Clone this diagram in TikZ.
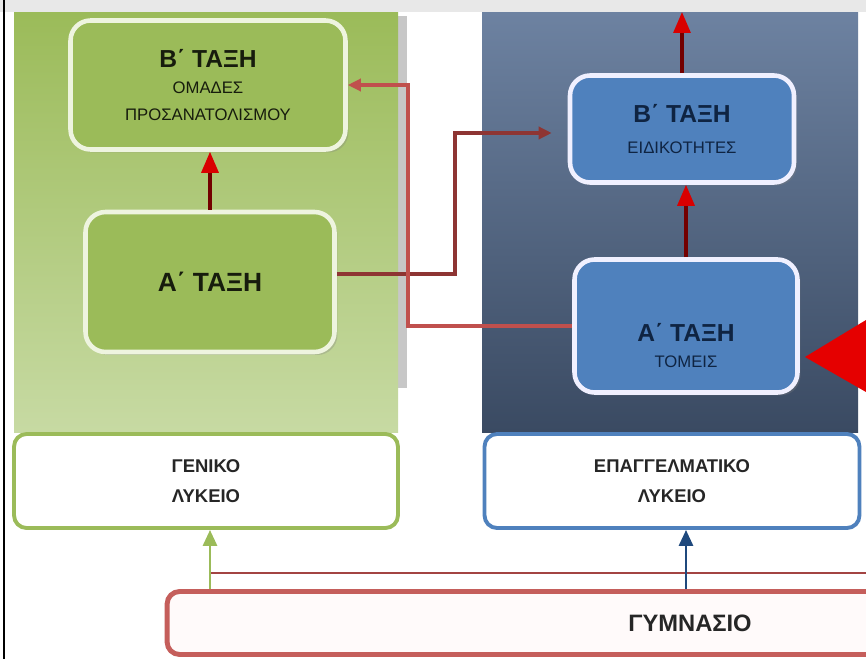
\documentclass[tikz,border=0pt]{standalone}
\usepackage{fontspec}
\setmainfont{Liberation Sans}
\usetikzlibrary{arrows.meta,shadows}

\definecolor{olive1}{HTML}{9BBB59}
\definecolor{olive2}{HTML}{C7DAA3}
\definecolor{oliveline}{HTML}{EEF4DF}
\definecolor{slate1}{HTML}{6D82A1}
\definecolor{slate2}{HTML}{3A4A62}
\definecolor{steel}{HTML}{4F81BD}
\definecolor{steeldark}{HTML}{1F497D}
\definecolor{brick}{HTML}{C0504D}
\definecolor{darkbrick}{HTML}{8E3533}
\definecolor{pinkline}{HTML}{D99694}
\definecolor{navytext}{HTML}{0F2442}

\newcommand{\classtitle}[1]{{\fontsize{14}{16}\selectfont\bfseries #1}}
\newcommand{\classsub}[1]{{\fontsize{9.5}{15}\selectfont #1}}

\begin{document}
\begin{tikzpicture}[x=0.02cm, y=-0.02cm,
  gbox/.style={rectangle, rounded corners=0.4cm, draw=oliveline, line width=2.6pt,
    fill=olive1, align=center, text=black!85!olive1, font=\fontsize{9.5}{15}\selectfont,
    drop shadow={shadow xshift=0.06cm, shadow yshift=-0.06cm, opacity=0.3}},
  bbox/.style={gbox, draw=blue!6!white, fill=steel, text=navytext},
  lbox/.style={rectangle, rounded corners=0.25cm, line width=2.2pt, fill=white,
    align=center, font=\fontsize{10.5}{17}\selectfont\bfseries, text=black!85},
  redarrow/.style={draw=red!45!black, line width=1.8pt,
    -{Triangle[length=0.42cm, width=0.34cm, fill=red!85!black, color=red!85!black]}},
  link/.style={line width=2.2pt, -{Triangle[length=0.26cm, width=0.24cm]}}
]
  \clip (0,0) rectangle (866,659);
  \fill[white] (0,0) rectangle (866,659);
  \fill[black!9] (0,0) rectangle (866,12);
  \draw[black, line width=1pt] (4,0) -- (4,659);

  % panels
  \fill[black!22] (398,16) rectangle (407,388);
  \fill[top color=olive1, bottom color=olive2] (14,12) rectangle (398,432);
  \fill[top color=slate1, bottom color=slate2] (482,12) rectangle (858,432);

  % general lyceum
  \node[gbox, minimum width=5.5cm, minimum height=2.58cm] (gB) at (208,85)
    {\classtitle{Β΄ ΤΑΞΗ}\\ \classsub{ΟΜΑΔΕΣ}\\ \classsub{ΠΡΟΣΑΝΑΤΟΛΙΣΜΟΥ}};
  \node[gbox, minimum width=4.98cm, minimum height=2.8cm] (gA) at (210,282)
    {\fontsize{15}{17}\selectfont\bfseries Α΄ ΤΑΞΗ};

  % vocational lyceum
  \node[bbox, minimum width=4.48cm, minimum height=2.14cm] (bB) at (682,129)
    {\classtitle{Β΄ ΤΑΞΗ}\\[3pt] \classsub{ΕΙΔΙΚΟΤΗΤΕΣ}};
  \node[bbox, minimum width=4.46cm, minimum height=2.66cm] (bA) at (686,326)
    {\rule{0pt}{1.15cm}\classtitle{Α΄ ΤΑΞΗ}\\ \classsub{ΤΟΜΕΙΣ}};

  % school labels
  \node[lbox, draw=olive1, minimum width=7.68cm, minimum height=1.88cm] (genL) at (206,481)
    {ΓΕΝΙΚΟ\\ ΛΥΚΕΙΟ};
  \node[lbox, draw=steel, minimum width=7.5cm, minimum height=1.88cm] (epL) at (672,481)
    {ΕΠΑΓΓΕΛΜΑΤΙΚΟ\\ ΛΥΚΕΙΟ};
  \node[lbox, draw=brick!80!pinkline, fill=red!2!white, line width=2.8pt,
    font=\fontsize{13.5}{16}\selectfont\bfseries,
    minimum width=20.92cm, minimum height=1.26cm] (gym) at (690,623) {ΓΥΜΝΑΣΙΟ};

  % red wedge
  \fill[red!90!black] (805,357) -- (866,320) -- (866,392) -- cycle;

  % arrows inside panels
  \draw[redarrow] (gA.north) -- (gA.north |- gB.south);
  \draw[redarrow] (bA.north) -- (bA.north |- bB.south);
  \draw[redarrow] (bB.north) -- (bB.north |- 0,12);

  % crossing links
  \draw[link, darkbrick] ([yshift=0.16cm]gA.east) -- ++(118,0)
    |- ([xshift=-0.32cm, yshift=-0.08cm]bB.west);
  \draw[link, brick] (bA.west) -- ++(-164,0) |- (gB.east);

  % from gymnasium
  \draw[brick!85!black, line width=1.6pt] ([yshift=0.32cm]gym.north -| gA.south) -- ++(700,0);
  \draw[olive1, line width=1.6pt, -{Triangle[length=0.32cm, width=0.28cm]}]
    (gym.north -| gA.south) -- (gA.south |- genL.south);
  \draw[steeldark, line width=1.6pt, -{Triangle[length=0.32cm, width=0.28cm]}]
    (gym.north -| bA.south) -- (bA.south |- epL.south);
\end{tikzpicture}
\end{document}
